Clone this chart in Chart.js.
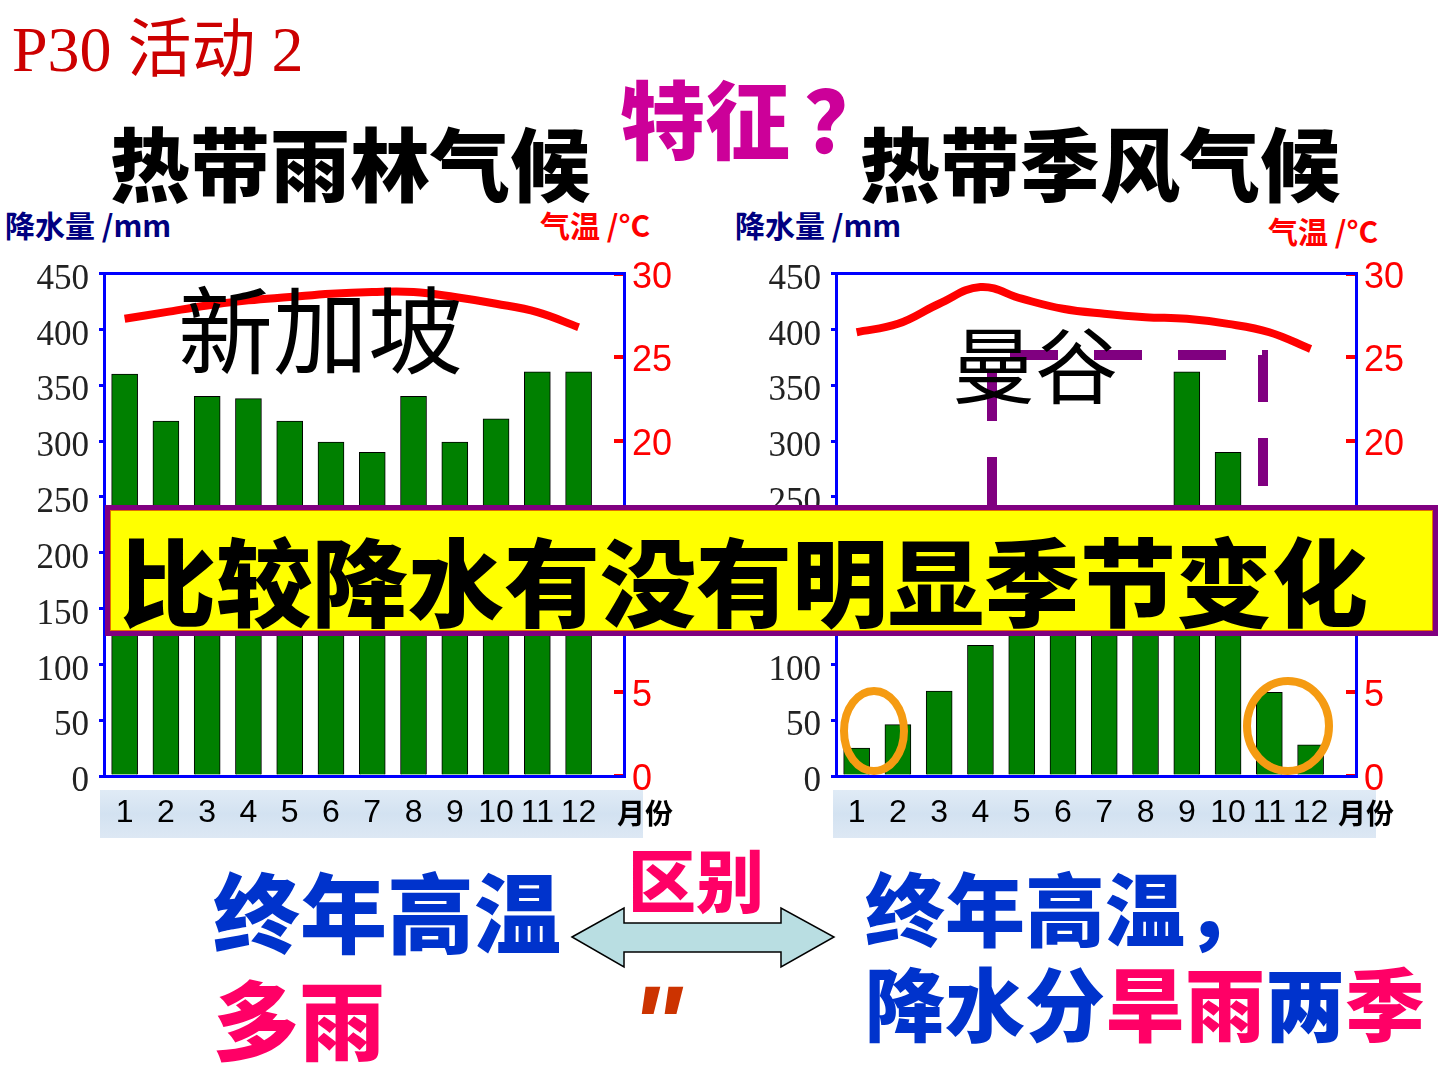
<!DOCTYPE html>
<html>
<head>
<meta charset="utf-8">
<script src="https://cdn.jsdelivr.net/npm/chart.js@4.4.1/dist/chart.umd.min.js"></script>
<style>
  body { margin: 0; width: 1440px; height: 1080px; background: #fff; position: relative; overflow: hidden;
         font-family: "Noto Sans CJK SC", sans-serif; }
  .t { position: absolute; white-space: nowrap; line-height: 1; }
  .band { position: absolute; top: 790px; height: 48px;
          background: linear-gradient(180deg, #e0ebf6 0%, #d3e2f1 50%, #dde8f4 100%); }
  canvas { position: absolute; }
  svg { position: absolute; left: 0; top: 0; }
  .box { position: absolute; left: 105px; top: 505px; width: 1333px; height: 131px; box-sizing: border-box;
         background: #ffff00; border: 5px solid #800080; box-shadow: inset 0 0 0 1px #e07000; }
</style>
</head>
<body>

<div class="t" style="left:12px;top:18px;font-size:64px;color:#cc0000;font-family:'Liberation Serif','Noto Sans CJK SC';">P30 活动 2</div>
<div class="t" style="left:620px;top:73px;font-size:85px;color:#cc0099;font-weight:900;">特征<span style="margin-left:14px">？</span></div>
<div class="t" style="left:110px;top:120px;font-size:80px;color:#000;font-weight:900;">热带雨林气候</div>
<div class="t" style="left:860px;top:120px;font-size:80px;color:#000;font-weight:900;">热带季风气候</div>

<div class="t" style="left:5px;top:209px;font-size:30px;color:#000080;font-weight:700;">降水量 /mm</div>
<div class="t" style="left:540px;top:209px;font-size:30px;color:#ff0000;font-weight:700;">气温 /°C</div>
<div class="t" style="left:735px;top:209px;font-size:30px;color:#000080;font-weight:700;">降水量 /mm</div>
<div class="t" style="left:1268px;top:215px;font-size:30px;color:#ff0000;font-weight:700;">气温 /°C</div>

<div class="band" style="left:100px;width:543px;"></div>
<div class="band" style="left:833px;width:543px;"></div>

<canvas id="chart-singapore" width="720" height="616" style="left:0;top:234px;"></canvas>
<canvas id="chart-bangkok" width="708" height="616" style="left:732px;top:234px;"></canvas>

<div class="t" style="left:617px;top:798px;font-size:28px;color:#000;font-weight:700;">月份</div>
<div class="t" style="left:1338px;top:798px;font-size:28px;color:#000;font-weight:700;">月份</div>

<svg width="1440" height="1080">
  <path d="M992 505 L992 355 L1263 355 L1263 505" fill="none" stroke="#800080" stroke-width="10" stroke-dasharray="48 36"/>
  <ellipse cx="874" cy="731" rx="30" ry="40" fill="none" stroke="#f59b12" stroke-width="8"/>
  <ellipse cx="1288" cy="726" rx="41" ry="45" fill="none" stroke="#f59b12" stroke-width="8"/>
</svg>

<div class="t" style="left:178px;top:278px;font-size:95px;color:#000;">新加坡</div>
<div class="t" style="left:952px;top:320px;font-size:83px;color:#000;">曼谷</div>

<div class="box"></div>
<div class="t" style="left:120px;top:530px;font-size:96px;color:#000;font-weight:900;">比较降水有没有明显季节变化</div>

<div class="t" style="left:213px;top:866px;font-size:87px;color:#0033cc;font-weight:900;">终年高温</div>
<div class="t" style="left:213px;top:974px;font-size:86px;color:#ff0066;font-weight:900;">多雨</div>
<div class="t" style="left:628px;top:844px;font-size:68px;color:#ff0066;font-weight:900;">区别</div>
<div class="t" style="left:630px;top:969px;font-size:110px;color:#cc3300;font-weight:700;font-style:italic;font-family:'Liberation Sans';">"</div>
<div class="t" style="left:865px;top:865px;font-size:80px;color:#0033cc;font-weight:900;">终年高温，</div>
<div class="t" style="left:865px;top:960px;font-size:80px;color:#0033cc;font-weight:900;">降水分<span style="color:#ff0066">旱雨</span>两<span style="color:#ff0066">季</span></div>

<svg width="1440" height="1080" style="pointer-events:none">
  <polygon points="572,937 624,908 624,923 781,923 781,908 834,937 781,967 781,952 624,952 624,967"
           fill="#b9dee2" stroke="#000" stroke-width="1.5"/>
</svg>

<script>
// months on the x axis
const months = [1, 2, 3, 4, 5, 6, 7, 8, 9, 10, 11, 12];

// 新加坡 (热带雨林气候)
const singaporeRain = [360, 318, 340, 338, 318, 299, 290, 340, 299, 320, 362, 362];
const singaporeTemp = [27.3, 27.7, 28.1, 28.4, 28.6, 28.8, 28.9, 28.9, 28.6, 28.2, 27.7, 26.8];

// 曼谷 (热带季风气候)
const bangkokRain = [25, 46, 76, 117, 190, 150, 160, 190, 362, 290, 75, 28];
const bangkokTemp = [26.5, 27.0, 28.2, 29.2, 28.5, 27.9, 27.6, 27.4, 27.3, 27.0, 26.5, 25.5];

// axis ranges
const rainMax = 450, rainStep = 50;
const tempMax = 30, tempStep = 5;

// blue line along the top of the plot (closes the frame)
const frameTop = {
  id: 'frameTop',
  afterDraw(chart) {
    const { ctx, chartArea } = chart;
    ctx.save();
    ctx.strokeStyle = '#0000ff';
    ctx.lineWidth = 3;
    ctx.beginPath();
    ctx.moveTo(chartArea.left - 1.5, chartArea.top);
    ctx.lineTo(chartArea.right + 1.5, chartArea.top);
    ctx.stroke();
    ctx.restore();
  }
};

function climateChart(id, rain, temp, rightWidth) {
  const ctx = document.getElementById(id).getContext("2d");
  return new Chart(ctx, {
    data: {
      labels: months,
      datasets: [{
        type: 'line',
        label: '气温',
        data: temp,
        yAxisID: 'y1',
        borderColor: '#ff0000',
        borderWidth: 8,
        pointRadius: 0,
        tension: 0.4,
        fill: false,
        order: 0
      }, {
        type: 'bar',
        label: '降水量',
        data: rain,
        yAxisID: 'y',
        backgroundColor: '#008000',
        borderColor: '#000000',
        borderWidth: 1,
        barThickness: 26,
        order: 1
      }]
    },
    options: {
      responsive: false,
      animation: false,
      layout: { padding: { top: 24, left: 0, right: 0, bottom: 0 } },
      plugins: {
        legend: { display: false },
        tooltip: { enabled: false }
      },
      scales: {
        x: {
          type: 'linear',
          offset: false,
          min: 0.5,
          max: 13.1,
          afterBuildTicks: s => { s.ticks = months.map(m => ({ value: m })); },
          afterFit: s => { s.height = 74; },
          grid: { display: false, drawTicks: false },
          border: { color: '#0000ff', width: 3 },
          ticks: {
            padding: 18,
            color: '#000',
            autoSkip: false,
            maxRotation: 0,
            font: { family: "'Liberation Sans Narrow', 'Liberation Sans'", size: 32 }
          }
        },
        y: {
          position: 'left',
          min: 0,
          max: rainMax,
          afterFit: s => { s.width = 104; },
          grid: { drawOnChartArea: false, color: '#0000ff', lineWidth: 3, tickLength: 5 },
          border: { color: '#0000ff', width: 3 },
          ticks: {
            stepSize: rainStep,
            padding: 10,
            labelOffset: 6,
            color: '#222',
            font: { family: 'Liberation Serif', size: 35 }
          }
        },
        y1: {
          position: 'right',
          min: 0,
          max: tempMax,
          afterFit: s => { s.width = rightWidth; },
          grid: { drawOnChartArea: false, color: '#ff0000', lineWidth: 4, tickLength: -10 },
          border: { color: '#0000ff', width: 3 },
          ticks: {
            stepSize: tempStep,
            padding: 18,
            labelOffset: 4,
            color: '#ff0000',
            font: { family: 'Liberation Sans', size: 36 }
          }
        }
      }
    },
    plugins: [frameTop]
  });
}

climateChart("chart-singapore", singaporeRain, singaporeTemp, 96);
climateChart("chart-bangkok", bangkokRain, bangkokTemp, 84);
</script>
</body>
</html>
